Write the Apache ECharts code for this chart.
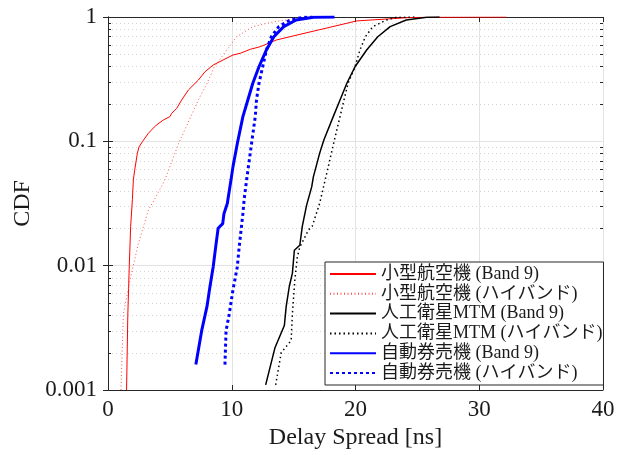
<!DOCTYPE html>
<html>
<head>
<meta charset="utf-8">
<script src="https://cdn.jsdelivr.net/npm/echarts@6/dist/echarts.min.js"></script>
<style>html,body{margin:0;padding:0;background:#fff}#c{width:633px;height:455px}</style>
</head>
<body>
<div id="c"></div>
<script>
// ---- data ----
const seriesNames = ['小型航空機 (Band 9)', '小型航空機 (ハイバンド)', '人工衛星MTM (Band 9)', '人工衛星MTM (ハイバンド)', '自動券売機 (Band 9)', '自動券売機 (ハイバンド)'];

const aircraftBand9X = [1.5, 1.6, 1.72, 1.83, 1.97, 2.05, 2.16, 2.37, 2.5, 2.8, 3.26, 3.5, 3.9, 4.5, 5.0, 5.15, 5.55, 5.95, 6.5, 7.3, 7.84, 8.5, 9.3, 10.1, 10.7, 11.5, 12.3, 13.6, 14.7, 20.1, 24.4, 27.0, 32.2];
const aircraftBand9Y = [0.001, 0.004, 0.01, 0.0207, 0.034, 0.049, 0.059, 0.08, 0.09, 0.1, 0.116, 0.123, 0.135, 0.149, 0.158, 0.168, 0.184, 0.215, 0.259, 0.311, 0.363, 0.411, 0.451, 0.495, 0.511, 0.55, 0.577, 0.653, 0.694, 0.93, 0.99, 0.997, 1.0];

const aircraftHighX = [1.05, 1.1, 1.2, 1.24, 1.78, 2.45, 3.26, 3.75, 4.6, 5.7, 7.3, 8.0, 8.6, 9.6, 10.4, 11.7, 13.4, 15.5, 17.5];
const aircraftHighY = [0.001, 0.0015, 0.003, 0.0041, 0.0077, 0.015, 0.028, 0.034, 0.049, 0.096, 0.215, 0.293, 0.398, 0.543, 0.694, 0.836, 0.917, 0.975, 1.0];

const satelliteBand9X = [12.74, 13.5, 14.25, 14.4, 14.65, 14.9, 15.06, 15.5, 15.7, 16.05, 16.46, 16.6, 17.1, 17.45, 18.2, 18.75, 19.3, 19.96, 20.9, 21.8, 22.8, 24.1, 25.75, 26.8];
const satelliteBand9Y = [0.0011, 0.0022, 0.0033, 0.0047, 0.0068, 0.0087, 0.0133, 0.0146, 0.0207, 0.0307, 0.043, 0.052, 0.08, 0.103, 0.158, 0.215, 0.293, 0.398, 0.543, 0.694, 0.836, 0.946, 0.994, 1.0];

const satelliteHighX = [13.55, 14.0, 14.8, 14.9, 15.1, 15.3, 15.5, 16.2, 16.5, 17.1, 17.8, 18.3, 18.75, 19.07, 19.4, 19.96, 20.36, 20.8, 21.4, 22.5, 23.3, 25.0];
const satelliteHighY = [0.0011, 0.002, 0.0025, 0.0041, 0.0077, 0.0118, 0.0141, 0.0194, 0.0207, 0.0316, 0.0626, 0.103, 0.158, 0.215, 0.293, 0.398, 0.543, 0.694, 0.836, 0.946, 0.994, 1.0];

const ticketBand9X = [7.1, 7.57, 8.0, 8.2, 8.5, 8.7, 8.9, 9.27, 9.37, 9.64, 9.94, 10.1, 10.45, 10.9, 11.3, 11.7, 12.2, 12.8, 13.4, 14.2, 15.2, 16.6, 18.3];
const ticketBand9Y = [0.0016, 0.003, 0.0047, 0.0064, 0.0098, 0.0141, 0.02, 0.0218, 0.0262, 0.0316, 0.049, 0.0626, 0.096, 0.158, 0.215, 0.293, 0.398, 0.543, 0.694, 0.836, 0.946, 0.994, 1.0];

const ticketHighX = [9.45, 9.54, 9.8, 10.1, 10.45, 10.6, 10.9, 11.0, 11.2, 11.6, 11.9, 12.0, 12.2, 12.5, 12.8, 13.2, 13.8, 14.7, 15.8, 16.5];
const ticketHighY = [0.0016, 0.003, 0.0041, 0.0064, 0.0098, 0.0141, 0.0262, 0.034, 0.049, 0.096, 0.158, 0.215, 0.293, 0.398, 0.543, 0.694, 0.836, 0.946, 0.994, 1.0];

const xTickValues = [0, 10, 20, 30, 40];
const yTickValues = [0.001, 0.01, 0.1, 1];
const yTickLabels = ['0.001', '0.01', '0.1', '1'];
const yMinorValues = [0.002,0.003,0.004,0.005,0.006,0.007,0.008,0.009,0.02,0.03,0.04,0.05,0.06,0.07,0.08,0.09,0.2,0.3,0.4,0.5,0.6,0.7,0.8,0.9];

// ---- chart ----
const FONT = "'Liberation Serif', 'Times New Roman', 'Noto Sans CJK JP', serif";
const AX = '#262626';
const zip = (xs, ys) => xs.map((x, i) => [x, ys[i]]);
const xMin = xTickValues[0], xMax = xTickValues[xTickValues.length - 1];

function lineSeries(name, xs, ys, color, width, dash, z) {
  return {
    name: name, type: 'line', data: zip(xs, ys), symbol: 'none', showSymbol: false,
    z: z, clip: true,
    lineStyle: { color: color, width: width, type: dash },
    itemStyle: { color: color }
  };
}

const chart = echarts.init(document.getElementById('c'), null, { renderer: 'canvas' });
chart.setOption({
  animation: false,
  backgroundColor: '#ffffff',
  textStyle: { fontFamily: FONT },
  grid: { left: 108, right: 30, top: 17, bottom: 65, containLabel: false },
  legend: {
    data: seriesNames,
    orient: 'vertical',
    left: 325, top: 262,
    padding: [3, 1, 3, 4],
    itemGap: 1.8,
    itemWidth: 46, itemHeight: 14,
    itemStyle: { opacity: 0 },
    backgroundColor: '#ffffff',
    borderColor: AX, borderWidth: 1,
    textStyle: { fontFamily: FONT, fontSize: 18, color: '#1a1a1a', lineHeight: 18 }
  },
  xAxis: [{
    type: 'value', min: xMin, max: xMax, interval: 10,
    name: 'Delay Spread [ns]', nameLocation: 'middle', nameGap: 36,
    nameTextStyle: { fontFamily: FONT, fontSize: 24, color: '#1a1a1a' },
    axisLine: { show: true, lineStyle: { color: AX, width: 1 } },
    axisTick: { show: true, inside: true, length: 5, lineStyle: { color: AX } },
    axisLabel: { margin: 8, fontFamily: FONT, fontSize: 23, color: '#1a1a1a' },
    splitLine: { show: true, lineStyle: { color: '#e3e3e3', width: 1 } }
  }, {
    type: 'value', position: 'top', min: xMin, max: xMax, interval: 10,
    axisLine: { show: true, lineStyle: { color: AX, width: 1 } },
    axisTick: { show: true, inside: true, length: 5, lineStyle: { color: AX } },
    axisLabel: { show: false }, splitLine: { show: false }
  }],
  yAxis: [{
    type: 'log', logBase: 10, min: yTickValues[0], max: yTickValues[yTickValues.length - 1],
    name: 'CDF', nameLocation: 'middle', nameGap: 64, nameRotate: 90,
    nameTextStyle: { fontFamily: FONT, fontSize: 24, color: '#1a1a1a' },
    axisLine: { show: true, lineStyle: { color: AX, width: 1 } },
    axisTick: { show: true, inside: true, length: 5, lineStyle: { color: AX } },
    axisLabel: {
      margin: 11, fontFamily: FONT, fontSize: 23, color: '#1a1a1a',
      formatter: function (v) {
        let best = 0, bd = Infinity;
        yTickValues.forEach((t, i) => { const d = Math.abs(Math.log10(v) - Math.log10(t)); if (d < bd) { bd = d; best = i; } });
        return yTickLabels[best];
      }
    },
    splitLine: { show: true, lineStyle: { color: '#e3e3e3', width: 1 } }
  }, {
    type: 'log', logBase: 10, position: 'right', min: yTickValues[0], max: yTickValues[yTickValues.length - 1],
    axisLine: { show: true, lineStyle: { color: AX, width: 1 } },
    axisTick: { show: true, inside: true, length: 5, lineStyle: { color: AX } },
    axisLabel: { show: false }, splitLine: { show: false }
  }],
  series: [
    {
      type: 'custom', name: 'minorGrid', silent: true, z: 1, xAxisIndex: 0, yAxisIndex: 0,
      data: yMinorValues.map(v => [xMin, v]),
      encode: { x: 0, y: 1 },
      clip: false,
      renderItem: function (params, api) {
        const v = api.value(1);
        const a = api.coord([xMin, v]);
        const b = api.coord([xMax, v]);
        const y = Math.round(a[1]) + 0.5;
        return {
          type: 'group', children: [
            { type: 'line', shape: { x1: a[0], y1: y, x2: b[0], y2: y }, style: { stroke: '#d4d4d4', lineWidth: 1, lineDash: [1, 3] } },
            { type: 'line', shape: { x1: a[0], y1: y, x2: a[0] + 3, y2: y }, style: { stroke: AX, lineWidth: 1 } },
            { type: 'line', shape: { x1: b[0], y1: y, x2: b[0] - 3, y2: y }, style: { stroke: AX, lineWidth: 1 } }
          ]
        };
      }
    },
    lineSeries(seriesNames[0], aircraftBand9X, aircraftBand9Y, '#ff0000', 1, 'solid', 3),
    lineSeries(seriesNames[1], aircraftHighX, aircraftHighY, '#ff5050', 1, [1, 2.5], 3),
    lineSeries(seriesNames[2], satelliteBand9X, satelliteBand9Y, '#000000', 1.5, 'solid', 3),
    lineSeries(seriesNames[3], satelliteHighX, satelliteHighY, '#000000', 1.5, [1.5, 3], 3),
    lineSeries(seriesNames[4], ticketBand9X, ticketBand9Y, '#0000ff', 3, 'solid', 4),
    lineSeries(seriesNames[5], ticketHighX, ticketHighY, '#0000ff', 3, [3, 3], 4)
  ]
});
</script>
</body>
</html>
